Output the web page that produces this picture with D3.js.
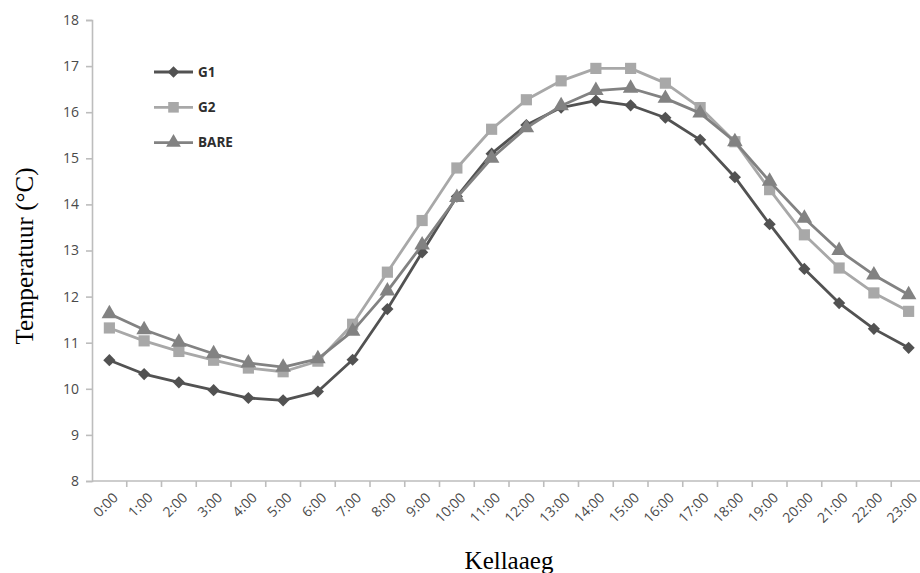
<!DOCTYPE html>
<html>
<head>
<meta charset="utf-8">
<script src="https://cdn.jsdelivr.net/npm/d3@7"></script>
<style>
  html, body { margin: 0; padding: 0; background: #fff; }
  svg { display: block; }
</style>
</head>
<body>
<svg id="chart" width="920" height="573"></svg>
<script>
// Hourly temperature (°C) for three surfaces
const hours = ["0:00","1:00","2:00","3:00","4:00","5:00","6:00","7:00","8:00","9:00","10:00","11:00",
               "12:00","13:00","14:00","15:00","16:00","17:00","18:00","19:00","20:00","21:00","22:00","23:00"];
const g1   = [10.62,10.32,10.14,9.97,9.80,9.75,9.94,10.63,11.73,12.96,14.17,15.10,
              15.72,16.10,16.25,16.15,15.88,15.40,14.59,13.57,12.60,11.86,11.30,10.89];
const g2   = [11.32,11.04,10.81,10.62,10.45,10.37,10.60,11.40,12.53,13.65,14.79,15.63,
              16.27,16.68,16.95,16.95,16.63,16.10,15.36,14.32,13.34,12.62,12.08,11.68];
const bare = [11.63,11.28,11.01,10.76,10.56,10.47,10.65,11.25,12.12,13.12,14.15,15.00,
              15.66,16.14,16.47,16.52,16.30,15.98,15.36,14.50,13.70,13.00,12.47,12.04];
const yTicks = [8,9,10,11,12,13,14,15,16,17,18];
const seriesNames = ["G1","G2","BARE"];

const series = [
  { name: seriesNames[0], values: g1,   color: "#525252", symbol: d3.symbolDiamond2, size: 95 },
  { name: seriesNames[1], values: g2,   color: "#a8a8a8", symbol: d3.symbolSquare,   size: 125 },
  { name: seriesNames[2], values: bare, color: "#828282", symbol: d3.symbolTriangle, size: 105 }
];

const svg = d3.select("#chart");
const plotLeft = 92, plotRight = 926, plotTop = 20, plotBottom = 481;

const x = d3.scaleBand().domain(hours).range([plotLeft, plotRight]);
const y = d3.scaleLinear().domain([8, 18]).range([plotBottom, plotTop]);
const cx = h => x(h) + x.bandwidth() / 2;

const axisColor = "#bdbdbd";
const labelColor = "#4a4a4a";
const tickFont = "'Open Sans', 'Liberation Sans', sans-serif";

// Y axis
const yAxis = svg.append("g")
  .attr("transform", `translate(${plotLeft},0)`)
  .call(d3.axisLeft(y).tickValues(yTicks).tickSize(6).tickPadding(7).tickFormat(d3.format("d")));
yAxis.select(".domain").attr("stroke", axisColor).attr("stroke-width", 1.6);
yAxis.selectAll(".tick line").attr("stroke", axisColor).attr("stroke-width", 1.6);
yAxis.selectAll(".tick text")
  .attr("fill", labelColor)
  .style("font-family", tickFont)
  .style("font-size", "14px");

// X axis: ticks sit on category boundaries
const xAxis = svg.append("g")
  .attr("transform", `translate(0,${plotBottom})`);
xAxis.append("line")
  .attr("x1", plotLeft).attr("x2", plotRight)
  .attr("y1", 0).attr("y2", 0)
  .attr("stroke", axisColor).attr("stroke-width", 1.6);
xAxis.selectAll("line.tick")
  .data(hours)
  .join("line")
  .attr("class", "tick")
  .attr("x1", d => x(d) + x.bandwidth())
  .attr("x2", d => x(d) + x.bandwidth())
  .attr("y1", 0).attr("y2", 6)
  .attr("stroke", axisColor).attr("stroke-width", 1.6);
xAxis.selectAll("text")
  .data(hours)
  .join("text")
  .attr("transform", d => `translate(${cx(d) + 6},${14}) rotate(-45)`)
  .attr("text-anchor", "end")
  .attr("dy", "0.35em")
  .attr("fill", labelColor)
  .style("font-family", tickFont)
  .style("font-size", "14px")
  .text(d => d);

// Lines and markers
const line = d3.line().x((d, i) => cx(hours[i])).y(d => y(d));

series.forEach(s => {
  const g = svg.append("g");
  g.append("path")
    .datum(s.values)
    .attr("fill", "none")
    .attr("stroke", s.color)
    .attr("stroke-width", 2.8)
    .attr("stroke-linejoin", "round")
    .attr("d", line);
  g.selectAll("path.marker")
    .data(s.values)
    .join("path")
    .attr("class", "marker")
    .attr("transform", (d, i) => `translate(${cx(hours[i])},${y(d)})`)
    .attr("d", d3.symbol().type(s.symbol).size(s.size))
    .attr("fill", s.color);
});

// Legend
const legend = svg.append("g").attr("transform", "translate(154,72)");
series.forEach((s, i) => {
  const row = legend.append("g").attr("transform", `translate(0,${i * 35.3})`);
  row.append("line")
    .attr("x1", 0).attr("x2", 39).attr("y1", 0).attr("y2", 0)
    .attr("stroke", s.color).attr("stroke-width", 2.8);
  row.append("path")
    .attr("transform", "translate(19.5,0)")
    .attr("d", d3.symbol().type(s.symbol).size(s.size * 0.9))
    .attr("fill", s.color);
  row.append("text")
    .attr("x", 44).attr("y", 0).attr("dy", "0.36em")
    .attr("fill", "#2e2e2e")
    .style("font-family", tickFont)
    .style("font-weight", "700")
    .style("font-size", "13.5px")
    .text(s.name);
});

// Axis titles
svg.append("text")
  .attr("transform", "translate(33,256) rotate(-90)")
  .attr("text-anchor", "middle")
  .attr("fill", "#000")
  .style("font-family", "'Liberation Serif', 'DejaVu Serif', serif")
  .style("font-size", "25px")
  .text("Temperatuur (°C)");

svg.append("text")
  .attr("x", 509).attr("y", 569)
  .attr("text-anchor", "middle")
  .attr("fill", "#000")
  .style("font-family", "'Liberation Serif', 'DejaVu Serif', serif")
  .style("font-size", "25px")
  .text("Kellaaeg");
</script>
</body>
</html>
